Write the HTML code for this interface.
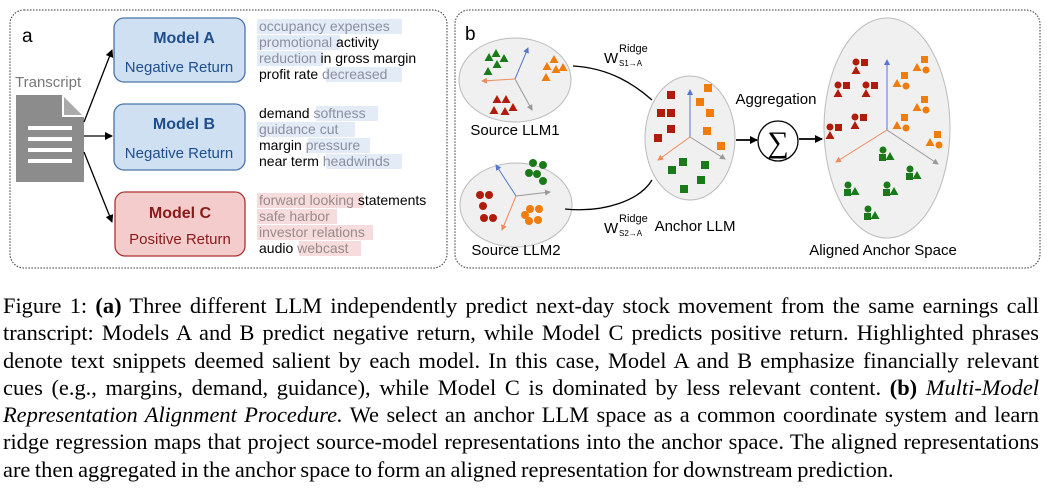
<!DOCTYPE html>
<html><head><meta charset="utf-8"><style>
body{margin:0;background:#fff;width:1047px;height:491px;overflow:hidden;position:relative;font-family:"Liberation Sans",sans-serif}
svg{position:absolute;left:0;top:0}
.cap{position:absolute;left:3px;top:292px;width:1036px;font-family:"Liberation Serif",serif;font-size:22.4px;line-height:27.3px;color:#000;word-spacing:-1px}
.cap div{text-align:justify;text-align-last:justify;white-space:nowrap}
.cap div.l{text-align-last:left}
</style></head><body>
<svg width="1047" height="290" viewBox="0 0 1047 290" font-family="Liberation Sans, sans-serif">
<defs>
<marker id="ah" markerWidth="8" markerHeight="8" refX="7" refY="4" orient="auto" markerUnits="userSpaceOnUse"><path d="M0,0 L8,4 L0,8 z" fill="#000"/></marker>
<marker id="ab" markerWidth="6" markerHeight="6" refX="5" refY="3" orient="auto" markerUnits="userSpaceOnUse"><path d="M0,0 L6,3 L0,6 z" fill="#5577cc"/></marker>
<marker id="ao" markerWidth="6" markerHeight="6" refX="5" refY="3" orient="auto" markerUnits="userSpaceOnUse"><path d="M0,0 L6,3 L0,6 z" fill="#f08a5d"/></marker>
<marker id="ag" markerWidth="6" markerHeight="6" refX="5" refY="3" orient="auto" markerUnits="userSpaceOnUse"><path d="M0,0 L6,3 L0,6 z" fill="#999"/></marker>
<g id="tr"><path d="M0,-4 L4.5,4 L-4.5,4 z"/></g>
</defs>
<rect x="10" y="10" width="437" height="258" rx="14" fill="none" stroke="#333" stroke-dasharray="1.5,1.5"/>
<rect x="455" y="10" width="585" height="258" rx="14" fill="none" stroke="#333" stroke-dasharray="1.5,1.5"/>
<text x="22" y="42" font-size="19">a</text>
<text x="465" y="40" font-size="19">b</text>
<text x="15" y="87" font-size="15" fill="#777">Transcript</text>
<path d="M16,95 L62,95 L84,117 L84,182 L16,182 z" fill="#8c8c8c"/>
<path d="M62,95 L62,117 L84,117 z" fill="#fff"/>
<path d="M64,97 L64,115 L82,115 z" fill="#aaa"/>
<g fill="#fff"><rect x="28" y="126" width="44" height="4"/><rect x="28" y="137" width="44" height="4"/><rect x="28" y="148" width="44" height="4"/><rect x="28" y="159" width="44" height="4"/></g>
<g stroke="#000" stroke-width="1.3" marker-end="url(#ah)"><line x1="84" y1="122" x2="112" y2="50"/><line x1="84" y1="136" x2="112" y2="136"/><line x1="84" y1="152" x2="112" y2="222"/></g>
<rect x="114" y="18" width="131" height="64" rx="10" fill="#cfe0f2" stroke="#4a74a8" stroke-width="1.3"/>
<text x="184" y="43" font-size="16" font-weight="bold" fill="#1f4e8c" text-anchor="middle">Model A</text>
<text x="179" y="72" font-size="15" fill="#1f4e8c" text-anchor="middle">Negative Return</text>
<rect x="114" y="104" width="131" height="66" rx="10" fill="#cfe0f2" stroke="#4a74a8" stroke-width="1.3"/>
<text x="184" y="129" font-size="16" font-weight="bold" fill="#1f4e8c" text-anchor="middle">Model B</text>
<text x="179" y="158" font-size="15" fill="#1f4e8c" text-anchor="middle">Negative Return</text>
<rect x="115" y="192" width="130" height="64" rx="10" fill="#f4cccc" stroke="#a33" stroke-width="1.3"/>
<text x="180" y="218" font-size="16" font-weight="bold" fill="#8b1a1a" text-anchor="middle">Model C</text>
<text x="180" y="244" font-size="15" fill="#8b1a1a" text-anchor="middle">Positive Return</text>
<g fill="#e3ecf6"><rect x="257" y="19" width="145" height="15"/><rect x="257" y="35" width="83" height="15"/><rect x="257" y="51" width="66" height="15"/><rect x="326" y="67" width="76" height="15"/>
<rect x="316" y="106" width="62" height="15"/><rect x="257" y="122" width="98" height="15"/><rect x="308" y="138" width="62" height="15"/><rect x="326" y="154" width="76" height="15"/></g>
<g fill="#f6dcdc"><rect x="257" y="193" width="106" height="15"/><rect x="257" y="209" width="80" height="15"/><rect x="257" y="225" width="116" height="15"/><rect x="299" y="241" width="62" height="15"/></g>
<g font-size="14" fill="#000">
<text x="259" y="31"><tspan fill="#8a8fa0">occupancy expenses</tspan></text>
<text x="259" y="47"><tspan fill="#8a8fa0">promotional</tspan> activity</text>
<text x="259" y="63"><tspan fill="#8a8fa0">reduction</tspan> in gross margin</text>
<text x="259" y="79">profit rate <tspan fill="#8a8fa0">decreased</tspan></text>
<text x="259" y="118">demand <tspan fill="#8a8fa0">softness</tspan></text>
<text x="259" y="134"><tspan fill="#8a8fa0">guidance cut</tspan></text>
<text x="259" y="150">margin <tspan fill="#8a8fa0">pressure</tspan></text>
<text x="259" y="166">near term <tspan fill="#8a8fa0">headwinds</tspan></text>
<text x="259" y="205"><tspan fill="#9a8a8a">forward looking</tspan> statements</text>
<text x="259" y="221"><tspan fill="#9a8a8a">safe harbor</tspan></text>
<text x="259" y="237"><tspan fill="#9a8a8a">investor relations</tspan></text>
<text x="259" y="253">audio <tspan fill="#9a8a8a">webcast</tspan></text>
</g>
<g fill="#f0f0f0" stroke="#bbb" stroke-width="1"><ellipse cx="515" cy="80" rx="56" ry="42"/><ellipse cx="516" cy="205" rx="56" ry="42"/><ellipse cx="690" cy="138" rx="45" ry="62"/><ellipse cx="887" cy="128" rx="63" ry="110"/></g>
<path d="M573,66 C610,68 635,85 652,100" fill="none" stroke="#000" stroke-width="1.3"/>
<path d="M565,209 C605,213 640,200 652,180" fill="none" stroke="#000" stroke-width="1.3"/>
<text x="604" y="63" font-size="15">W</text><text x="619" y="52" font-size="11">Ridge</text><text x="619" y="66" font-size="8">S1→A</text>
<text x="604" y="233" font-size="15">W</text><text x="619" y="222" font-size="11">Ridge</text><text x="619" y="236" font-size="8">S2→A</text>
<text x="515" y="135" font-size="15" text-anchor="middle">Source LLM1</text>
<text x="516" y="255" font-size="15" text-anchor="middle">Source LLM2</text>
<text x="695" y="231" font-size="15" text-anchor="middle">Anchor LLM</text>
<text x="776" y="104" font-size="15" text-anchor="middle">Aggregation</text>
<text x="883" y="255" font-size="15" text-anchor="middle">Aligned Anchor Space</text>
<circle cx="778" cy="141" r="20" fill="#fff" stroke="#000" stroke-width="1.3"/>
<text x="778" y="152" font-size="30" text-anchor="middle" font-family="Liberation Serif, serif">∑</text>
<g stroke="#000" stroke-width="1.8" marker-end="url(#ah)"><line x1="736" y1="140" x2="757" y2="140"/><line x1="799" y1="139" x2="822" y2="139"/></g>
<g stroke-width="1"><line x1="515" y1="79" x2="528" y2="48" stroke="#5577cc" marker-end="url(#ab)"/><line x1="515" y1="79" x2="482" y2="81" stroke="#f08a5d" marker-end="url(#ao)"/><line x1="515" y1="79" x2="532" y2="110" stroke="#999" marker-end="url(#ag)"/>
<line x1="516" y1="196" x2="496" y2="165" stroke="#5577cc" marker-end="url(#ab)"/><line x1="516" y1="196" x2="550" y2="192" stroke="#999" marker-end="url(#ag)"/><line x1="516" y1="196" x2="502" y2="230" stroke="#f08a5d" marker-end="url(#ao)"/>
<line x1="690" y1="137" x2="690" y2="90" stroke="#5577cc" marker-end="url(#ab)"/><line x1="690" y1="137" x2="658" y2="160" stroke="#f08a5d" marker-end="url(#ao)"/><line x1="690" y1="137" x2="725" y2="159" stroke="#999" marker-end="url(#ag)"/>
<line x1="887" y1="130" x2="887" y2="60" stroke="#5577cc" marker-end="url(#ab)"/><line x1="887" y1="130" x2="836" y2="162" stroke="#f08a5d" marker-end="url(#ao)"/><line x1="887" y1="130" x2="938" y2="164" stroke="#999" marker-end="url(#ag)"/></g>
<g fill="#1a7a1a"><use href="#tr" x="496" y="53"/><use href="#tr" x="489" y="57"/><use href="#tr" x="504" y="58"/><use href="#tr" x="497" y="64"/><use href="#tr" x="488" y="71"/></g>
<g fill="#f07c0c"><use href="#tr" x="554" y="59"/><use href="#tr" x="547" y="66"/><use href="#tr" x="556" y="69"/><use href="#tr" x="563" y="67"/><use href="#tr" x="546" y="77"/></g>
<g fill="#b01c0c"><use href="#tr" x="497" y="99"/><use href="#tr" x="506" y="99"/><use href="#tr" x="494" y="110"/><use href="#tr" x="505" y="111"/><use href="#tr" x="513" y="107"/></g>
<g fill="#1a7a1a"><circle cx="533" cy="163" r="4"/><circle cx="543" cy="165" r="4"/><circle cx="529" cy="173" r="4"/><circle cx="537" cy="174" r="4"/><circle cx="543" cy="181" r="4"/></g>
<g fill="#b01c0c"><circle cx="480" cy="195" r="4"/><circle cx="489" cy="195" r="4"/><circle cx="483" cy="206" r="4"/><circle cx="484" cy="218" r="4"/><circle cx="493" cy="218" r="4"/></g>
<g fill="#f07c0c"><circle cx="530" cy="209" r="4"/><circle cx="539" cy="209" r="4"/><circle cx="525" cy="215" r="4"/><circle cx="529" cy="221" r="4"/><circle cx="538" cy="220" r="4"/></g>
<g fill="#b01c0c"><rect x="667" y="91" width="8" height="8"/><rect x="657" y="109" width="8" height="8"/><rect x="667" y="109" width="8" height="8"/><rect x="667" y="125" width="8" height="8"/><rect x="654" y="134" width="8" height="8"/></g>
<g fill="#f07c0c"><rect x="704" y="84" width="8" height="8"/><rect x="696" y="98" width="8" height="8"/><rect x="706" y="109" width="8" height="8"/><rect x="703" y="127" width="8" height="8"/><rect x="717" y="142" width="8" height="8"/></g>
<g fill="#1a7a1a"><rect x="679" y="158" width="8" height="8"/><rect x="668" y="166" width="8" height="8"/><rect x="701" y="161" width="8" height="8"/><rect x="697" y="176" width="8" height="8"/><rect x="680" y="185" width="8" height="8"/></g>
<g fill="#b01c0c">
<g transform="translate(858,65)"><circle cx="-2" cy="-3" r="3.5"/><use href="#tr" x="-2" y="5"/><rect x="3" y="-6" width="7" height="7"/></g>
<g transform="translate(840,88)"><circle cx="-2" cy="-3" r="3.5"/><use href="#tr" x="-2" y="5"/><rect x="3" y="-6" width="7" height="7"/></g>
<g transform="translate(868,88)"><circle cx="-2" cy="-3" r="3.5"/><use href="#tr" x="-2" y="5"/><rect x="3" y="-6" width="7" height="7"/></g>
<g transform="translate(857,120)"><circle cx="-2" cy="-3" r="3.5"/><use href="#tr" x="-2" y="5"/><rect x="3" y="-6" width="7" height="7"/></g>
<g transform="translate(832,130)"><circle cx="-2" cy="-3" r="3.5"/><use href="#tr" x="-2" y="5"/><rect x="3" y="-6" width="7" height="7"/></g>
</g>
<g fill="#f07c0c">
<g transform="translate(922,62)"><rect x="-1" y="-6" width="7" height="7"/><use href="#tr" x="-5" y="5"/><circle cx="4" cy="8" r="3.5"/></g>
<g transform="translate(902,78)"><rect x="-1" y="-6" width="7" height="7"/><use href="#tr" x="-5" y="5"/><circle cx="4" cy="8" r="3.5"/></g>
<g transform="translate(922,102)"><rect x="-1" y="-6" width="7" height="7"/><use href="#tr" x="-5" y="5"/><circle cx="4" cy="8" r="3.5"/></g>
<g transform="translate(902,120)"><rect x="-1" y="-6" width="7" height="7"/><use href="#tr" x="-5" y="5"/><circle cx="4" cy="8" r="3.5"/></g>
<g transform="translate(935,137)"><rect x="-1" y="-6" width="7" height="7"/><use href="#tr" x="-5" y="5"/><circle cx="4" cy="8" r="3.5"/></g>
</g>
<g fill="#1a7a1a">
<g transform="translate(883,153)"><circle cx="0" cy="-3" r="3.5"/><rect x="-4" y="1" width="7" height="7"/><use href="#tr" x="7" y="3"/></g>
<g transform="translate(910,172)"><circle cx="0" cy="-3" r="3.5"/><rect x="-4" y="1" width="7" height="7"/><use href="#tr" x="7" y="3"/></g>
<g transform="translate(848,188)"><circle cx="0" cy="-3" r="3.5"/><rect x="-4" y="1" width="7" height="7"/><use href="#tr" x="7" y="3"/></g>
<g transform="translate(887,188)"><circle cx="0" cy="-3" r="3.5"/><rect x="-4" y="1" width="7" height="7"/><use href="#tr" x="7" y="3"/></g>
<g transform="translate(868,212)"><circle cx="0" cy="-3" r="3.5"/><rect x="-4" y="1" width="7" height="7"/><use href="#tr" x="7" y="3"/></g>
</g>
</svg>
<div class="cap">
<div>Figure 1: <b>(a)</b> Three different LLM independently predict next-day stock movement from the same earnings call</div>
<div>transcript: Models A and B predict negative return, while Model C predicts positive return. Highlighted phrases</div>
<div>denote text snippets deemed salient by each model. In this case, Model A and B emphasize financially relevant</div>
<div>cues (e.g., margins, demand, guidance), while Model C is dominated by less relevant content. <b>(b)</b> <i>Multi-Model</i></div>
<div><i>Representation Alignment Procedure.</i> We select an anchor LLM space as a common coordinate system and learn</div>
<div>ridge regression maps that project source-model representations into the anchor space. The aligned representations</div>
<div class="l">are then aggregated in the anchor space to form an aligned representation for downstream prediction.</div>
</div>
</body></html>
